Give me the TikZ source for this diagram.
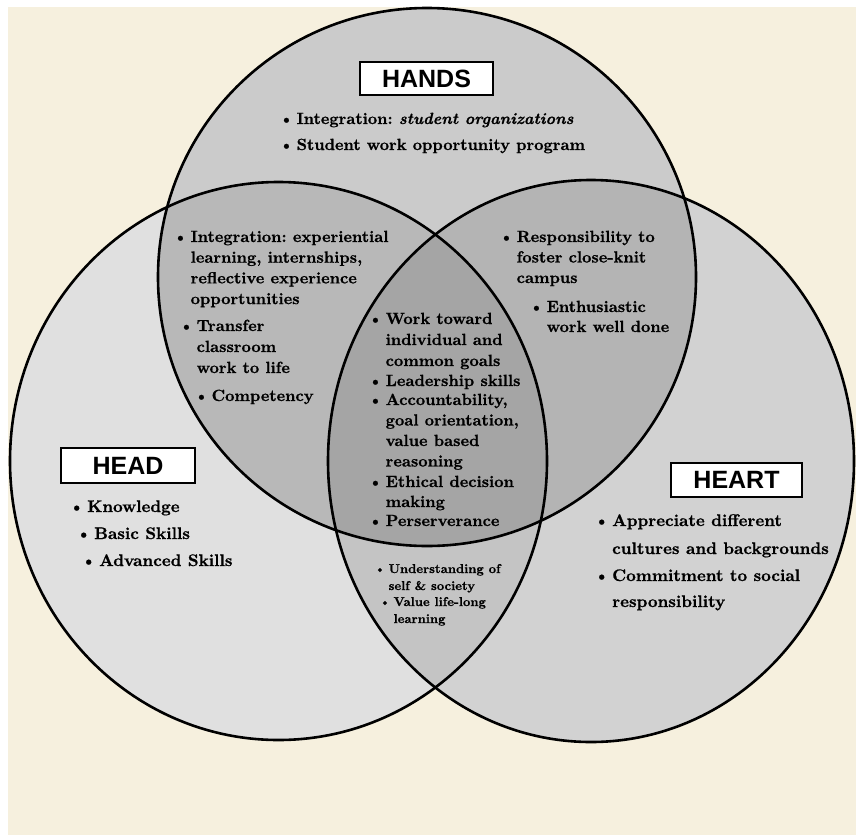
\documentclass[tikz,border=0pt]{standalone}
\usepackage{fontspec}
\newfontfamily\labelfont{Liberation Sans}
\newfontfamily\heavy{lmroman10-bold}[Extension=.otf, ItalicFont=lmroman10-bolditalic, FakeBold=0.8]
\frenchspacing
\definecolor{cream}{RGB}{246,240,222}
\definecolor{handsC}{RGB}{203,203,203}
\definecolor{headC}{RGB}{224,224,224}
\definecolor{heartC}{RGB}{210,210,210}
\definecolor{hhC}{RGB}{184,184,184}
\definecolor{hrC}{RGB}{180,180,180}
\definecolor{triC}{RGB}{165,165,165}
\definecolor{bhC}{RGB}{196,196,196}
\newcommand{\bl}[1]{\begin{tabular}[t]{@{}l@{\hspace{3pt}}l@{}}\textbullet & #1\end{tabular}}
\tikzset{
  txt/.style={anchor=base west, inner sep=0pt, font=\fontsize{16.2}{20.5}\selectfont\heavy\frenchspacing},
  txtbig/.style={anchor=base west, inner sep=0pt, font=\fontsize{16.8}{27}\selectfont\heavy\frenchspacing},
  txtsmall/.style={anchor=base west, inner sep=0pt, font=\fontsize{12.8}{17}\selectfont\heavy\frenchspacing},
  lbl/.style={draw=black, fill=white, line width=2.5pt, inner sep=0pt, font=\labelfont\fontsize{25}{25}\selectfont\bfseries},
  ring/.style={draw=black, line width=2.6pt}
}
\begin{document}
\begin{tikzpicture}[x=1pt,y=-1pt]
\useasboundingbox (0,0) rectangle (856,835);
\fill[white] (0,0) rectangle (856,835);
\fill[cream] (8,7) rectangle (856,835);
\def\headE{(278.5,461) ellipse [x radius=268.5pt, y radius=279pt]}
\def\heartE{(591,461) ellipse [x radius=263pt, y radius=281pt]}
\def\handsE{(427,277) ellipse [x radius=269pt, y radius=269pt]}
\fill[headC] \headE;
\fill[heartC] \heartE;
\fill[handsC] \handsE;
\begin{scope}
  \clip \headE;
  \fill[hhC] \handsE;
  \fill[bhC] \heartE;
  \clip \handsE;
  \fill[triC] \heartE;
\end{scope}
\begin{scope}
  \clip \handsE;
  \clip \heartE;
  \fill[hrC] (200,0) rectangle (856,835);
  \clip \headE;
  \fill[triC] (200,0) rectangle (856,835);
\end{scope}
\draw[ring] \headE;
\draw[ring] \heartE;
\draw[ring] \handsE;
% labels
\node[lbl, minimum width=133pt, minimum height=33pt] (hands) at (426.5,78.5) {HANDS};
\node[lbl, minimum width=134pt, minimum height=35pt] (head) at (128,465.5) {HEAD};
\node[lbl, minimum width=131pt, minimum height=34pt] (heart) at (736.5,480) {HEART};
% hands
\node[txt] (h1) at (279,124) {\bl{Integration: \textit{student organizations}}};
\node[txt] (h2) at (279,150) {\bl{Student work opportunity program}};
% hands & head
\node[txt, font=\fontsize{16.2}{20.7}\selectfont\heavy\frenchspacing] (hh1) at (173,242) {\bl{Integration: experiential\\ & learning, internships,\\ & reflective experience\\ & opportunities}};
\node[txt, font=\fontsize{16.2}{21}\selectfont\heavy\frenchspacing] (hh2) at (179,331) {\bl{Transfer\\ & classroom\\ & work to life}};
\node[txt] (hh3) at (194,401) {\bl{Competency}};
% hands & heart
\node[txt] (hr1) at (499,242) {\bl{Responsibility to\\ & foster close-knit\\ & campus}};
\node[txt, font=\fontsize{16.2}{20}\selectfont\heavy\frenchspacing] (hr2) at (529,312) {\bl{Enthusiastic\\ & work well done}};
% centre
\node[txt, font=\fontsize{16.2}{21}\selectfont\heavy\frenchspacing] (c1) at (368,324) {\bl{Work toward\\ & individual and\\ & common goals}};
\node[txt] (c2) at (368,386) {\bl{Leadership skills}};
\node[txt] (c3) at (368,405) {\bl{Accountability,\\ & goal orientation,\\ & value based\\ & reasoning}};
\node[txt, font=\fontsize{16.2}{20}\selectfont\heavy\frenchspacing] (c4) at (368,487) {\bl{Ethical decision\\ & making}};
\node[txt] (c5) at (368,526) {\bl{Perserverance}};
% head & heart
\node[txtsmall] (b1) at (374,573) {\bl{Understanding of\\ & self \& society}};
\node[txtsmall] (b2) at (379,606) {\bl{Value life-long\\ & learning}};
% head
\node[txtbig] (k1) at (69,512) {\bl{Knowledge}};
\node[txtbig] (k2) at (76,539) {\bl{Basic Skills}};
\node[txtbig] (k3) at (81,566) {\bl{Advanced Skills}};
% heart
\node[txtbig, font=\fontsize{16.8}{28}\selectfont\heavy\frenchspacing] (r1) at (594,526) {\bl{Appreciate different\\ & cultures and backgrounds}};
\node[txtbig, font=\fontsize{16.8}{26}\selectfont\heavy\frenchspacing] (r2) at (594,581) {\bl{Commitment to social\\ & responsibility}};
\end{tikzpicture}
\end{document}
